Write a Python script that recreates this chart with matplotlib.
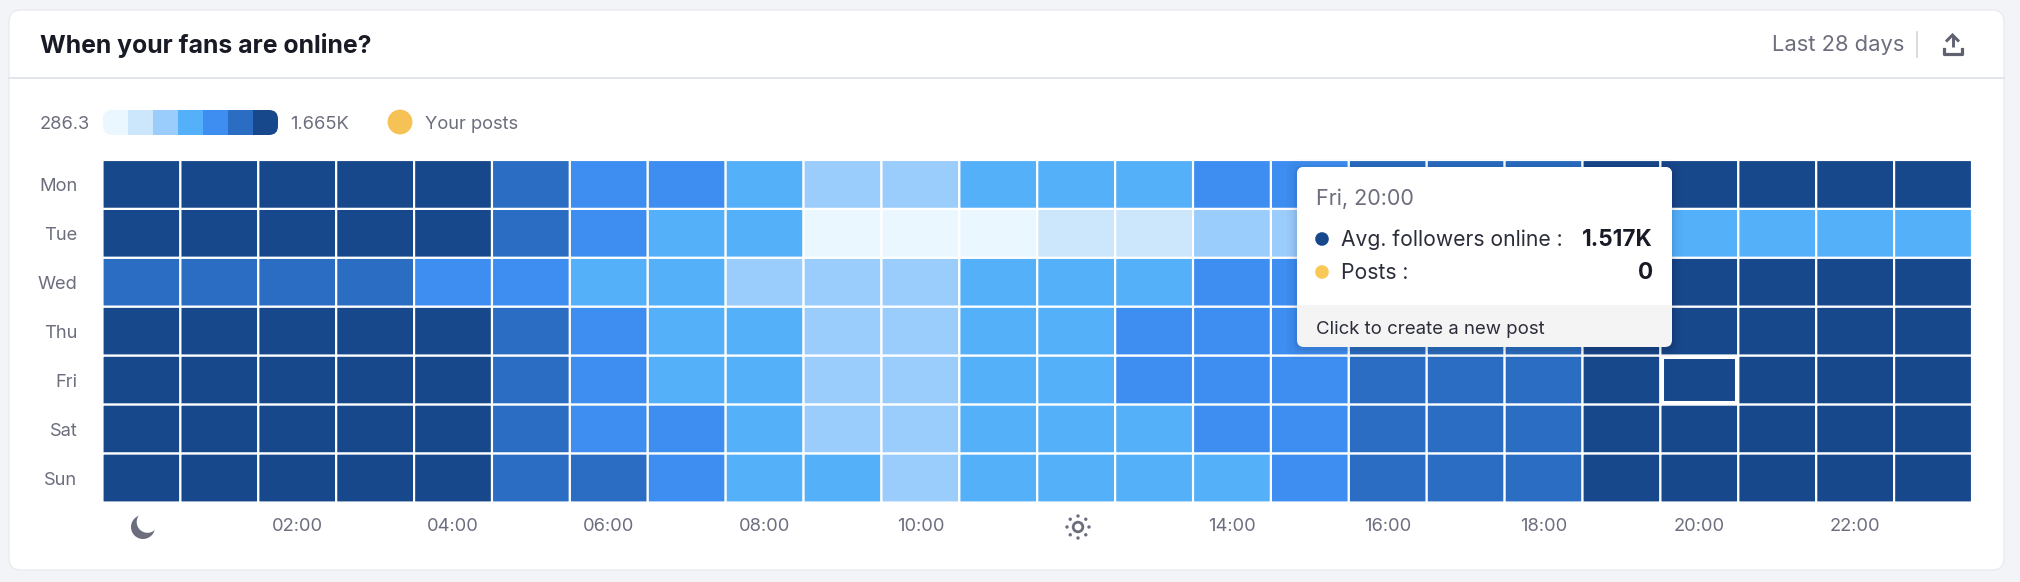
import numpy as np
import matplotlib
matplotlib.use("Agg")
import matplotlib.pyplot as plt
from matplotlib.colors import ListedColormap, BoundaryNorm
from matplotlib.patches import FancyBboxPatch, Rectangle, Circle

plt.rcParams['font.family'] = ['Inter', 'DejaVu Sans']

days = ['Mon', 'Tue', 'Wed', 'Thu', 'Fri', 'Sat', 'Sun']
hour_labels = ['', '02:00', '04:00', '06:00', '08:00', '10:00', '', '14:00', '16:00', '18:00', '20:00', '22:00']
hour_ticks = [0, 2, 4, 6, 8, 10, 12, 14, 16, 18, 20, 22]

mon = [6, 6, 6, 6, 6, 5, 4, 4, 3, 2, 2, 3, 3, 3, 4, 4, 5, 5, 5, 6, 6, 6, 6, 6]
tue = [6, 6, 6, 6, 6, 5, 4, 3, 3, 0, 0, 0, 1, 1, 2, 2, 2, 3, 3, 3, 3, 3, 3, 3]
wed = [5, 5, 5, 5, 4, 4, 3, 3, 2, 2, 2, 3, 3, 3, 4, 4, 5, 5, 5, 6, 6, 6, 6, 6]
thu = [6, 6, 6, 6, 6, 5, 4, 3, 3, 2, 2, 3, 3, 4, 4, 4, 5, 5, 5, 6, 6, 6, 6, 6]
fri = [6, 6, 6, 6, 6, 5, 4, 3, 3, 2, 2, 3, 3, 4, 4, 4, 5, 5, 5, 6, 6, 6, 6, 6]
sat = [6, 6, 6, 6, 6, 5, 4, 4, 3, 2, 2, 3, 3, 3, 4, 4, 5, 5, 5, 6, 6, 6, 6, 6]
sun = [6, 6, 6, 6, 6, 5, 5, 4, 3, 3, 2, 3, 3, 3, 3, 4, 5, 5, 5, 6, 6, 6, 6, 6]
levels = [0, 1, 2, 3, 4, 5, 6]
palette = ['#EBF7FF', '#CCE6FC', '#9ACCFC', '#55B0FA', '#3D8EF0', '#2A6DC2', '#18488C']
legend_min = '286.3'
legend_max = '1.665K'

W, H = 2020, 582
GRAY = '#6C6E7E'
DARK = '#181A25'
fig = plt.figure(figsize=(W / 100, H / 100), dpi=100, facecolor='#F3F4F8')

# page chrome, in pixel coordinates
bg = fig.add_axes([0, 0, 1, 1], zorder=0)
bg.set_xlim(0, W); bg.set_ylim(H, 0); bg.axis('off')
bg.add_patch(FancyBboxPatch((9, 10), 1995, 560, boxstyle='round,pad=0,rounding_size=12',
                            fc='white', ec='#E6E8ED', lw=0.8))
bg.plot([9, 2004], [78, 78], color='#E3E5EC', lw=1.4)
bg.text(40, 53, 'When your fans are online?', fontsize=17.85, fontweight='bold', color=DARK, va='baseline')
bg.text(1904, 51, 'Last 28 days', fontsize=15.8, color=GRAY, ha='right', va='baseline')
bg.plot([1917, 1917], [32, 57], color='#D3D5DD', lw=1.2)
# upload icon
ICON = '#5F6070'
bg.plot([1952.5, 1952.5], [47, 36], color=ICON, lw=2.1, solid_capstyle='butt')
bg.plot([1947, 1952.5, 1958], [40.5, 35, 40.5], color=ICON, lw=2.1, solid_joinstyle='miter')
bg.plot([1943.5, 1943.5, 1961.5, 1961.5], [49, 53.5, 53.5, 49], color=ICON, lw=2.3, solid_joinstyle='round')

# legend
bg.text(40, 129, legend_min, fontsize=13.2, color=GRAY, va='baseline')
bg.text(290, 129, legend_max, fontsize=13.2, color=GRAY, va='baseline')
lg = fig.add_axes([103 / W, 1 - 135 / H, 175 / W, 25 / H], zorder=1)
im = lg.imshow(np.array(levels)[None, :], cmap=ListedColormap(palette), aspect='auto',
               vmin=-0.5, vmax=6.5, extent=(0, 7, 0, 1))
lg.axis('off')
clip = FancyBboxPatch((103, 110), 175, 25, boxstyle='round,pad=0,rounding_size=9',
                      fc='none', ec='none', transform=bg.transData)
bg.add_patch(clip)
im.set_clip_path(clip)
bg.add_patch(Circle((400, 122), 12.4, fc='#F6C155', ec='none'))
bg.text(425, 129, 'Your posts', fontsize=13.2, color=GRAY, va='baseline')

# heatmap
X0, X1, Y0, Y1 = 102.5, 1972, 160, 502.5
ax = fig.add_axes([X0 / W, 1 - Y1 / H, (X1 - X0) / W, (Y1 - Y0) / H], zorder=2)
matrix = np.array([mon, tue, wed, thu, fri, sat, sun])
mesh = ax.pcolormesh(np.arange(25), np.arange(8), matrix, cmap=ListedColormap(palette),
                     norm=BoundaryNorm(np.arange(-0.5, 7.5), 7), edgecolors='white', linewidth=1.55,
                     antialiased=True)
mesh.set_snap(False)
ax.set_xlim(0, 24); ax.set_ylim(7, 0)
ax.set_xticks(np.array(hour_ticks) + 0.5, hour_labels, fontsize=13.2, color=GRAY)
ax.set_yticks(np.arange(7) + 0.5, days, fontsize=13.2, color=GRAY)
ax.tick_params(length=0)
ax.tick_params(axis='x', pad=11.5)
ax.tick_params(axis='y', pad=18.0)
for s in ax.spines.values():
    s.set_visible(False)
# hovered cell outline, set just inside the cell
ax.add_patch(Rectangle((20.02, 4.03), 0.96, 0.94, fc='none', ec='white', lw=2.9, clip_on=False, zorder=5))

# overlay: icons and tooltip
ov = fig.add_axes([0, 0, 1, 1], zorder=3)
ov.set_xlim(0, W); ov.set_ylim(H, 0); ov.axis('off'); ov.patch.set_alpha(0)
ov.add_patch(Circle((143, 527), 12, fc='#6C6E7E', ec='none'))
ov.add_patch(Circle((147.5, 522), 10.8, fc='white', ec='none'))
ov.add_patch(Circle((1078, 527), 4.8, fc='none', ec='#6C6E7E', lw=2.0))
for a in np.arange(8) * np.pi / 4:
    ov.add_patch(Circle((1078 + 11 * np.cos(a), 527 + 11 * np.sin(a)), 1.7, fc='#6C6E7E', ec='none'))

tx0, tx1, ty0, ty1, tf = 1297, 1672, 167, 347, 305
for pad, alpha in [(10, 0.015), (7, 0.02), (4, 0.03), (2, 0.04)]:
    ov.add_patch(FancyBboxPatch((tx0 - pad, ty0 - pad + 2), tx1 - tx0 + 2 * pad, ty1 - ty0 + 2 * pad,
                                boxstyle='round,pad=0,rounding_size=10', fc='black', ec='none', alpha=alpha))
ov.add_patch(FancyBboxPatch((tx0, ty0), tx1 - tx0, ty1 - ty0, boxstyle='round,pad=0,rounding_size=7',
                            fc='#F4F4F5', ec='none'))
ov.add_patch(FancyBboxPatch((tx0, ty0), tx1 - tx0, tf - ty0, boxstyle='round,pad=0,rounding_size=7',
                            fc='white', ec='none'))
ov.add_patch(Rectangle((tx0, tf - 8), tx1 - tx0, 8, fc='white', ec='none'))
ov.text(1316, 205, 'Fri, 20:00', fontsize=15.5, color=GRAY, va='baseline')
ov.add_patch(Circle((1322, 239), 6.8, fc=palette[-1], ec='none'))
ov.add_patch(Circle((1322, 272), 6.8, fc='#F9C856', ec='none'))
ov.text(1341, 246, 'Avg. followers online :', fontsize=15.2, color='#2B2D3A', va='baseline')
ov.text(1341, 279, 'Posts :', fontsize=15.2, color='#2B2D3A', va='baseline')
ov.text(1653, 246, '1.517K', fontsize=16.2, fontweight='bold', color=DARK, ha='right', va='baseline')
ov.text(1653, 279, '0', fontsize=16.2, fontweight='bold', color=DARK, ha='right', va='baseline')
ov.text(1316, 334, 'Click to create a new post', fontsize=13.4, color='#2B2D3A', va='baseline')

fig.savefig('out.png', dpi=100, facecolor=fig.get_facecolor())
